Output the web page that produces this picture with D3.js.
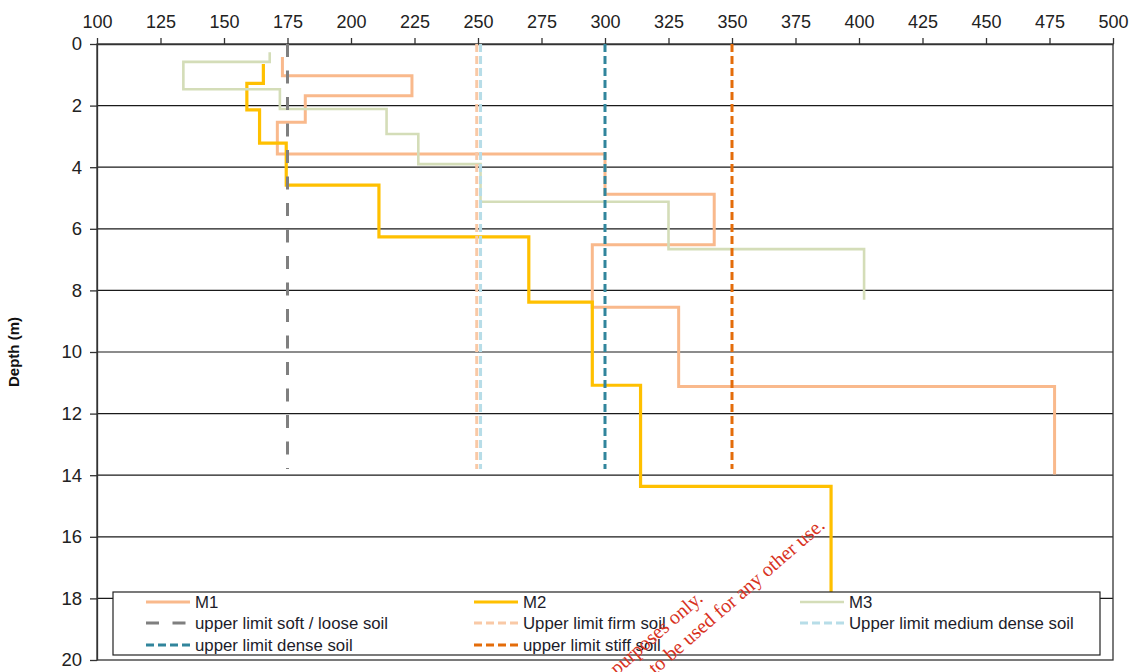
<!DOCTYPE html>
<html>
<head>
<meta charset="utf-8">
<script src="https://cdn.jsdelivr.net/npm/d3@7"></script>
<style>
  body { margin: 0; background: #fff; }
  text { font-family: "Liberation Sans", Arial, sans-serif; }
  text.stamp { font-family: "Liberation Serif", "Times New Roman", serif; }
</style>
</head>
<body>
<svg id="chart" width="1136" height="672"></svg>
<script>
// ---- data ----------------------------------------------------------------
const xTickValues = [100, 125, 150, 175, 200, 225, 250, 275, 300, 325, 350, 375, 400, 425, 450, 475, 500];
const depthTickValues = [0, 2, 4, 6, 8, 10, 12, 14, 16, 18, 20];

// Step profiles: layer boundaries (m) and the value in each layer
const m1Depths = [0.42, 1.03, 1.68, 2.54, 3.57, 4.88, 6.52, 8.55, 11.12, 13.98];
const m1Values = [173, 224, 182, 171, 300, 343, 295, 329, 477];

const m2Depths = [0.65, 1.28, 2.14, 3.22, 4.58, 6.26, 8.38, 11.08, 14.36, 19.2];
const m2Values = [165.5, 159, 164, 174.5, 211, 270, 295, 314, 389];

const m3Depths = [0.27, 0.58, 1.47, 2.11, 2.92, 3.9, 5.12, 6.66, 8.3];
const m3Values = [168, 134, 172, 214, 226.5, 251, 325, 402];

// Reference limits drawn as vertical dashed lines
const limitNames = [
  "upper limit soft / loose soil",
  "Upper limit firm soil",
  "Upper limit medium dense soil",
  "upper limit dense soil",
  "upper limit stiff soil"
];
const limitValues = [175, 249.5, 251, 300, 350];
const limitDepthRange = [0, 13.8];

// ---- layout --------------------------------------------------------------
const svg = d3.select("#chart");
const plotLeft = 97, plotRight = 1113, plotTop = 44, plotBottom = 660;

const x = d3.scaleLinear().domain([100, 500]).range([plotLeft, plotRight]);
const y = d3.scaleLinear().domain([0, 20]).range([plotTop, plotBottom]);

const seriesStyle = {
  M1: { color: "#F9B98C", width: 3 },
  M2: { color: "#FFC000", width: 3.2 },
  M3: { color: "#D4DDB8", width: 2.6 }
};
const limitStyle = [
  { color: "#7F7F7F", dash: "13,13.5" },
  { color: "#F9C9A6", dash: "8,4" },
  { color: "#B7DDE8", dash: "8,4" },
  { color: "#31859C", dash: "8,4" },
  { color: "#E46C0A", dash: "8,4" }
];

// horizontal gridlines
svg.append("g")
  .selectAll("line")
  .data(depthTickValues.filter(d => d > 0 && d < 20))
  .join("line")
  .attr("x1", plotLeft).attr("x2", plotRight)
  .attr("y1", d => y(d)).attr("y2", d => y(d))
  .attr("stroke", "#1a1a1a").attr("stroke-width", 1.2);

// plot frame
svg.append("rect")
  .attr("x", plotLeft).attr("y", plotTop)
  .attr("width", plotRight - plotLeft).attr("height", plotBottom - plotTop)
  .attr("fill", "none").attr("stroke", "#333").attr("stroke-width", 1.3);

// top axis
const xAxis = svg.append("g")
  .attr("transform", `translate(0,${plotTop})`)
  .call(d3.axisTop(x).tickValues(xTickValues).tickSize(6).tickSizeOuter(0).tickPadding(10));
xAxis.select(".domain").attr("stroke", "#333").attr("stroke-width", 1.3);
xAxis.selectAll(".tick line").attr("stroke", "#333").attr("stroke-width", 1.3);
xAxis.selectAll(".tick text")
  .attr("font-size", 18).attr("fill", "#222")
  .style("font-family", "Liberation Sans, Arial, sans-serif");

// left axis
const yAxis = svg.append("g")
  .attr("transform", `translate(${plotLeft},0)`)
  .call(d3.axisLeft(y).tickValues(depthTickValues).tickSize(7).tickSizeOuter(0).tickPadding(8));
yAxis.select(".domain").attr("stroke", "#333").attr("stroke-width", 1.3);
yAxis.selectAll(".tick line").attr("stroke", "#333").attr("stroke-width", 1.3);
yAxis.selectAll(".tick text")
  .attr("font-size", 18.5).attr("fill", "#222")
  .style("font-family", "Liberation Sans, Arial, sans-serif");

// axis title
svg.append("text")
  .attr("transform", `translate(19,${y(10)}) rotate(-90)`)
  .attr("text-anchor", "middle")
  .attr("font-size", 15).attr("font-weight", "bold").attr("fill", "#111")
  .text("Depth (m)");

// ---- step profiles -------------------------------------------------------
function profilePoints(depths, values) {
  const pts = [];
  values.forEach((v, i) => {
    pts.push([v, depths[i]]);
    pts.push([v, depths[i + 1]]);
  });
  return pts;
}
const line = d3.line().x(d => x(d[0])).y(d => y(d[1]));

const series = [
  { name: "M1", pts: profilePoints(m1Depths, m1Values) },
  { name: "M2", pts: profilePoints(m2Depths, m2Values) },
  { name: "M3", pts: profilePoints(m3Depths, m3Values) }
];

svg.append("g")
  .selectAll("path")
  .data(series)
  .join("path")
  .attr("d", d => line(d.pts))
  .attr("fill", "none")
  .attr("stroke", d => seriesStyle[d.name].color)
  .attr("stroke-width", d => seriesStyle[d.name].width)
  .attr("stroke-linejoin", "miter");

// ---- limit lines ---------------------------------------------------------
svg.append("g")
  .selectAll("path")
  .data(limitValues)
  .join("path")
  .attr("d", v => line(limitDepthRange.map(dep => [v, dep])))
  .attr("fill", "none")
  .attr("stroke", (v, i) => limitStyle[i].color)
  .attr("stroke-width", 3)
  .attr("stroke-dasharray", (v, i) => limitStyle[i].dash);

// ---- legend --------------------------------------------------------------
const legend = svg.append("g");
legend.append("rect")
  .attr("x", 113).attr("y", 592)
  .attr("width", 987).attr("height", 63)
  .attr("fill", "#fff").attr("stroke", "#222").attr("stroke-width", 1.2);

const colX = [146, 474, 800];
const rowY = [602, 623, 645];
const legendItems = [
  { label: "M1", color: seriesStyle.M1.color, dash: null, w: seriesStyle.M1.width },
  { label: "M2", color: seriesStyle.M2.color, dash: null, w: seriesStyle.M2.width },
  { label: "M3", color: seriesStyle.M3.color, dash: null, w: seriesStyle.M3.width }
].concat(limitNames.map((n, i) => ({ label: n, color: limitStyle[i].color, dash: limitStyle[i].dash, w: 3 })));

const li = legend.selectAll("g.item")
  .data(legendItems)
  .join("g")
  .attr("class", "item")
  .attr("transform", (d, i) => `translate(${colX[i % 3]},${rowY[Math.floor(i / 3)]})`);
li.append("line")
  .attr("x1", 0).attr("x2", 44)
  .attr("stroke", d => d.color)
  .attr("stroke-width", d => d.w)
  .attr("stroke-dasharray", d => d.dash);
li.append("text")
  .attr("x", 49).attr("y", 0).attr("dy", "0.36em")
  .attr("font-size", 16.8).attr("fill", "#1c1c2a")
  .text(d => d.label);

// ---- watermark -----------------------------------------------------------
const mark = svg.append("g")
  .attr("font-size", 20).attr("fill", "#D8321E").attr("text-anchor", "end");
mark.append("text")
  .attr("class", "stamp")
  .attr("transform", "translate(704,600) rotate(-41)")
  .text("purposes only.");
mark.append("text")
  .attr("class", "stamp")
  .attr("transform", "translate(826,527) rotate(-41)")
  .text("Not to be used for any other use.");
</script>
</body>
</html>
